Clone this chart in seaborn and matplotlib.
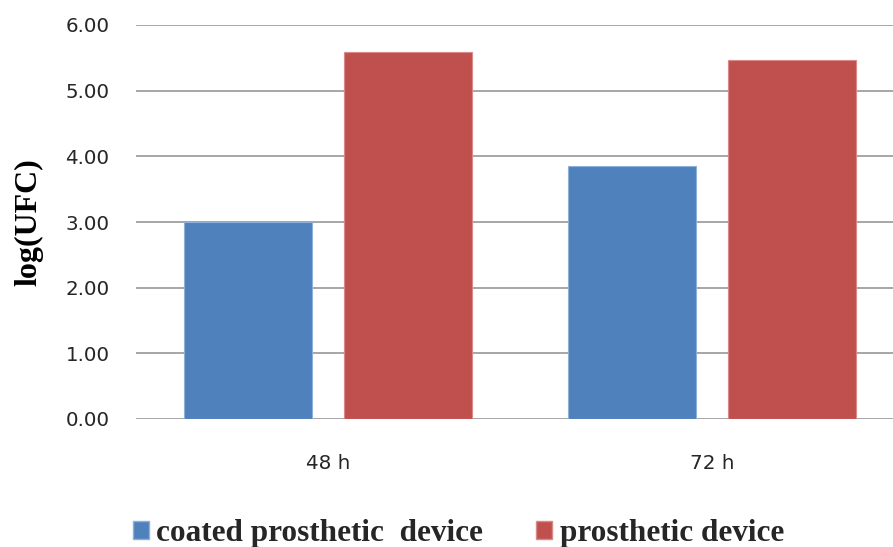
import matplotlib
matplotlib.use("Agg")
import matplotlib.pyplot as plt
from matplotlib.patches import Patch
import seaborn as sns
import pandas as pd

categories = ["48 h", "72 h"]
series_names = ["coated prosthetic  device", "prosthetic device"]
coated_values = [3.00, 3.85]
plain_values = [5.59, 5.46]
y_ticks = [0, 1, 2, 3, 4, 5, 6]
colors = ["#4F81BD", "#C0504D"]
edge_colors = ["#8FB0D8", "#D98A88"]

df = pd.DataFrame({
    "time": categories * 2,
    "series": [series_names[0]] * 2 + [series_names[1]] * 2,
    "value": coated_values + plain_values,
})

sns.set_theme(style="white")
plt.rcParams["font.family"] = ["DejaVu Sans"]

fig = plt.figure(figsize=(8.93, 5.47), dpi=100)
ax = fig.add_axes([136 / 893, 1 - 419 / 547, 768 / 893, 394 / 547])

sns.barplot(data=df, x="time", y="value", hue="series", hue_order=series_names,
            palette=colors, width=0.838, gap=0.205, ax=ax, legend=False,
            saturation=1, errorbar=None, zorder=3)

for i, cont in enumerate(ax.containers):
    for bar in cont:
        bar.set_edgecolor(edge_colors[i])
        bar.set_linewidth(0.8)

ax.set_xlim(-0.5, 1.5)
ax.set_ylim(0, 6)
ax.set_yticks(y_ticks)
ax.set_yticklabels([f"{v:.2f}" for v in y_ticks])
ax.yaxis.grid(True, color="#A6A6A6", linewidth=1.4, zorder=0)
ax.set_axisbelow(True)
for s in ax.spines.values():
    s.set_visible(False)
ax.tick_params(axis="y", length=0, pad=19, labelsize=14.3, labelcolor="#262626")
ax.tick_params(axis="x", length=0, pad=25, labelsize=14.3, labelcolor="#262626")
ax.set_xlabel("")
ax.set_ylabel("log(UFC)", fontsize=23, fontweight="bold",
              family="Liberation Serif", color="black", labelpad=0)
ax.yaxis.set_label_coords(-93 / 768, 0.5)

handles = [Patch(facecolor=colors[i], edgecolor=edge_colors[i]) for i in range(2)]
leg = fig.legend(handles, series_names, loc="center", bbox_to_anchor=(0.5135, 0.025),
                 ncol=2, frameon=False, handlelength=0.5, handleheight=0.5,
                 handletextpad=0.25, columnspacing=1.7,
                 prop={"family": "Liberation Serif", "weight": "bold", "size": 22.5})

fig.savefig("out.png", dpi=100)
